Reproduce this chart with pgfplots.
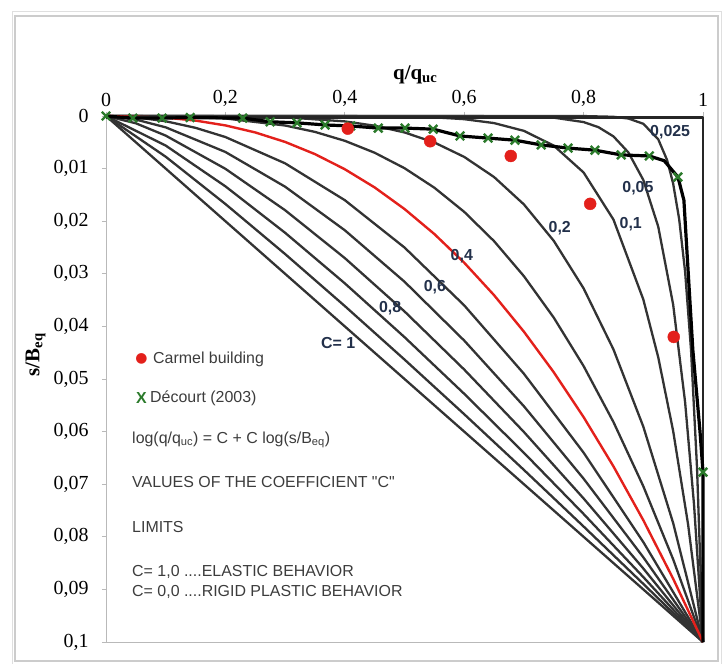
\documentclass[border=0pt]{standalone}
\usepackage{fontspec}
\setmainfont{Liberation Serif}
\newfontfamily\arial{Liberation Sans}
\newfontfamily\dejavu{DejaVu Sans}
\usepackage{pgfplots}
\pgfplotsset{compat=1.18}
\definecolor{curvegray}{HTML}{333333}
\definecolor{cred}{HTML}{E3201B}
\definecolor{xgreen}{HTML}{2B7A2B}
\definecolor{lblblue}{HTML}{22304A}
\definecolor{txtgray}{HTML}{3C3C3C}
\begin{document}
\begin{tikzpicture}
\begin{axis}[
  scale only axis, width=597bp, height=526bp,
  xmin=0, xmax=1, ymin=0, ymax=0.1, y dir=reverse,
  clip=false,
  axis line style={gray!55, line width=0.8bp},
  xtick={0,0.2,0.4,0.6,0.8,1},
  ytick={0,0.01,0.02,0.03,0.04,0.05,0.06,0.07,0.08,0.09,0.1},
  xtick pos=right, xticklabel pos=right, ytick pos=left,
  tick align=outside, major tick length=4bp,
  tick style={gray!55, line width=0.8bp},
  /pgf/number format/assume math mode=true,
  /pgf/number format/use comma, /pgf/number format/fixed,
  /pgf/number format/precision=2,
  ticklabel style={font=\fontsize{20}{20}\selectfont},
  yticklabel style={xshift=-10bp},
  xticklabel style={yshift=2bp},
  every axis plot/.append style={line join=round},
]
% C = 1 ... 0.025 (log(q/quc) = C + C log(s/Beq))
\addplot[curvegray, line width=2.3bp] coordinates {(0,0) (1,0.1)};
\addplot[curvegray, line width=2.3bp] coordinates {(0,0) (0.1,0.00774) (0.2,0.01673) (0.3,0.02624) (0.4,0.03613) (0.5,0.04630) (0.6,0.05669) (0.7,0.06728) (0.8,0.07804) (0.9,0.08895) (1,0.1)};
\addplot[curvegray, line width=2.3bp] coordinates {(0,0) (0.1,0.00562) (0.2,0.01337) (0.3,0.02220) (0.4,0.03181) (0.5,0.04204) (0.6,0.05281) (0.7,0.06403) (0.8,0.07566) (0.9,0.08765) (1,0.1)};
\addplot[curvegray, line width=2.3bp] coordinates {(0,0) (0.05,0.001385) (0.1,0.003728) (0.2,0.01004) (0.3,0.01791) (0.4,0.02701) (0.5,0.03715) (0.6,0.04820) (0.7,0.06007) (0.8,0.07271) (0.9,0.08602) (1,0.1)};
\addplot[curvegray, line width=2.3bp] coordinates {(0,0) (0.05,0.000679) (0.1,0.002154) (0.2,0.00684) (0.3,0.01344) (0.4,0.02172) (0.5,0.03150) (0.6,0.04269) (0.7,0.05518) (0.8,0.06895) (0.9,0.08389) (1,0.1)};
\addplot[curvegray, line width=2.3bp] coordinates {(0,0) (0.05,0.00025) (0.1,0.001) (0.15,0.00225) (0.2,0.004) (0.3,0.009) (0.4,0.016) (0.5,0.025) (0.6,0.036) (0.7,0.049) (0.8,0.064) (0.9,0.081) (1,0.1)};
\addplot[curvegray, line width=2.3bp] coordinates {(0,0) (0.1,0.0000464) (0.2,0.000468) (0.3,0.001807) (0.35,0.003022) (0.4,0.004716) (0.45,0.006983) (0.5,0.009921) (0.55,0.01363) (0.6,0.01822) (0.65,0.02379) (0.7,0.03045) (0.75,0.03833) (0.8,0.04754) (0.85,0.05818) (0.9,0.07038) (0.95,0.08428) (1,0.1)};
\addplot[curvegray, line width=2.3bp] coordinates {(0,0) (0.2,0.000032) (0.3,0.000243) (0.4,0.001024) (0.45,0.001845) (0.5,0.003125) (0.55,0.005033) (0.6,0.007776) (0.65,0.0116) (0.7,0.016807) (0.75,0.02373) (0.8,0.032768) (0.85,0.04437) (0.9,0.059049) (0.95,0.07738) (1,0.1)};
\addplot[curvegray, line width=2.3bp] coordinates {(0,0) (0.4,0.0000105) (0.5,0.0000977) (0.55,0.000253) (0.6,0.000605) (0.65,0.001346) (0.7,0.002825) (0.75,0.005631) (0.8,0.010737) (0.85,0.019687) (0.9,0.034868) (0.925,0.04586) (0.95,0.05987) (0.975,0.07763) (1,0.1)};
\addplot[curvegray, line width=2.3bp] coordinates {(0,0) (0.6,0.0000037) (0.7,0.0000798) (0.75,0.000317) (0.8,0.001153) (0.825,0.002133) (0.85,0.003876) (0.875,0.00692) (0.9,0.012158) (0.925,0.02103) (0.95,0.03585) (0.97,0.05438) (0.985,0.07391) (1,0.1)};
\addplot[curvegray, line width=2.3bp] coordinates {(0,0) (0.8,0.0000133) (0.85,0.00015) (0.875,0.000479) (0.9,0.001478) (0.925,0.004422) (0.94,0.00842) (0.95,0.01285) (0.96,0.01954) (0.97,0.02957) (0.98,0.04457) (0.99,0.0669) (1,0.1)};
% C = 0.4 (red)
\addplot[cred, line width=2.4bp] coordinates {(0,0) (0.1,0.000316) (0.15,0.000871) (0.2,0.001789) (0.25,0.003125) (0.3,0.00493) (0.35,0.007247) (0.4,0.01012) (0.45,0.01358) (0.5,0.01768) (0.55,0.02244) (0.6,0.02789) (0.65,0.03406) (0.7,0.04100) (0.75,0.04871) (0.8,0.05724) (0.85,0.06661) (0.9,0.07684) (0.95,0.08797) (1,0.1)};
% C = 0 (rigid plastic)
\addplot[black!85, line width=2.6bp] coordinates {(0,0.0003) (1,0.0003) (1,0.1)};
% Decourt (2003) curve
\addplot[black, line width=3.2bp] coordinates {(0,0) (0.045,0.0004) (0.094,0.0004) (0.141,0.0003) (0.229,0.0004) (0.275,0.0011) (0.320,0.0013) (0.367,0.0017) (0.410,0.0019) (0.456,0.0023) (0.501,0.0023) (0.548,0.0025) (0.593,0.0038) (0.640,0.0042) (0.685,0.0046) (0.729,0.0055) (0.774,0.0061) (0.819,0.0065) (0.863,0.0074) (0.910,0.0076) (0.935,0.0085) (0.958,0.0116) (0.968,0.016) (0.983,0.0445) (0.995,0.060) (1.0,0.0677) (1.0,0.1)};
\addplot[only marks, mark=x, mark size=6bp, mark options={draw=xgreen, line width=2.4bp}] coordinates {(0,0) (0.045,0.0004) (0.094,0.0004) (0.141,0.0003) (0.229,0.0004) (0.275,0.0011) (0.320,0.0013) (0.367,0.0017) (0.410,0.0019) (0.456,0.0023) (0.501,0.0023) (0.548,0.0025) (0.593,0.0038) (0.640,0.0042) (0.685,0.0046) (0.729,0.0055) (0.774,0.0061) (0.819,0.0065) (0.863,0.0074) (0.910,0.0076) (0.958,0.0116) (1.0,0.0677)};
% Carmel building
\addplot[only marks, mark=*, mark size=6bp, mark options={draw=cred, fill=cred}] coordinates {(0.405,0.0024) (0.543,0.0048) (0.678,0.0076) (0.811,0.0167) (0.951,0.042)};
% curve labels
\begin{scope}[every node/.style={font=\arial\bfseries\fontsize{16}{16}\selectfont, text=lblblue, inner sep=0pt}]
\node at (axis cs:0.945,0.0030) {0,025};
\node at (axis cs:0.891,0.0137) {0,05};
\node at (axis cs:0.879,0.0205) {0,1};
\node at (axis cs:0.760,0.0213) {0,2};
\node at (axis cs:0.596,0.0266) {0,4};
\node at (axis cs:0.551,0.0325) {0,6};
\node at (axis cs:0.476,0.0365) {0,8};
\node at (axis cs:0.389,0.0432) {C= 1};
\end{scope}
% annotations
\begin{scope}[every node/.style={font=\arial\fontsize{16}{18}\selectfont, text=txtgray, inner sep=0pt, anchor=west}]
\node[text=cred] at (axis cs:0.049,0.0462) {\dejavu\fontsize{14}{14}\selectfont ●};
\node at (axis cs:0.0787,0.0462) {Carmel building};
\node[text=xgreen, font=\arial\bfseries\fontsize{16}{18}\selectfont] at (axis cs:0.050,0.0536) {X};
\node at (axis cs:0.0737,0.0536) {Décourt (2003)};
\node at (axis cs:0.0436,0.0616) {log(q/q\textsubscript{uc}) = C + C log(s/B\textsubscript{eq})};
\node at (axis cs:0.0436,0.0696) {VALUES OF THE COEFFICIENT "C"};
\node at (axis cs:0.0436,0.0781) {LIMITS};
\node at (axis cs:0.0436,0.0867) {C= 1,0 ....ELASTIC BEHAVIOR};
\node at (axis cs:0.0436,0.0905) {C= 0,0 ....RIGID PLASTIC BEHAVIOR};
\end{scope}
% axis titles
\node[font=\bfseries\fontsize{21}{21}\selectfont] at (axis cs:0.518,-0.0078) {q/q\textsubscript{uc}};
\node[font=\bfseries\fontsize{21}{21}\selectfont, rotate=90] at (axis cs:-0.118,0.0454) {s/B\textsubscript{eq}};
% outer frame
\draw[gray!40, line width=1.6bp] (axis cs:-0.1524,-0.0190) rectangle (axis cs:1.0251,0.1036);
\draw[gray!25, line width=0.8bp] (axis cs:-0.1574,-0.0198) rectangle (axis cs:1.0301,0.1044);
\coordinate (bbsw) at (axis cs:-0.17755,0.104183);
\coordinate (bbne) at (axis cs:1.04188,-0.022053);
\end{axis}
\pgfresetboundingbox
\useasboundingbox (bbsw) rectangle (bbne);
\end{tikzpicture}
\end{document}
